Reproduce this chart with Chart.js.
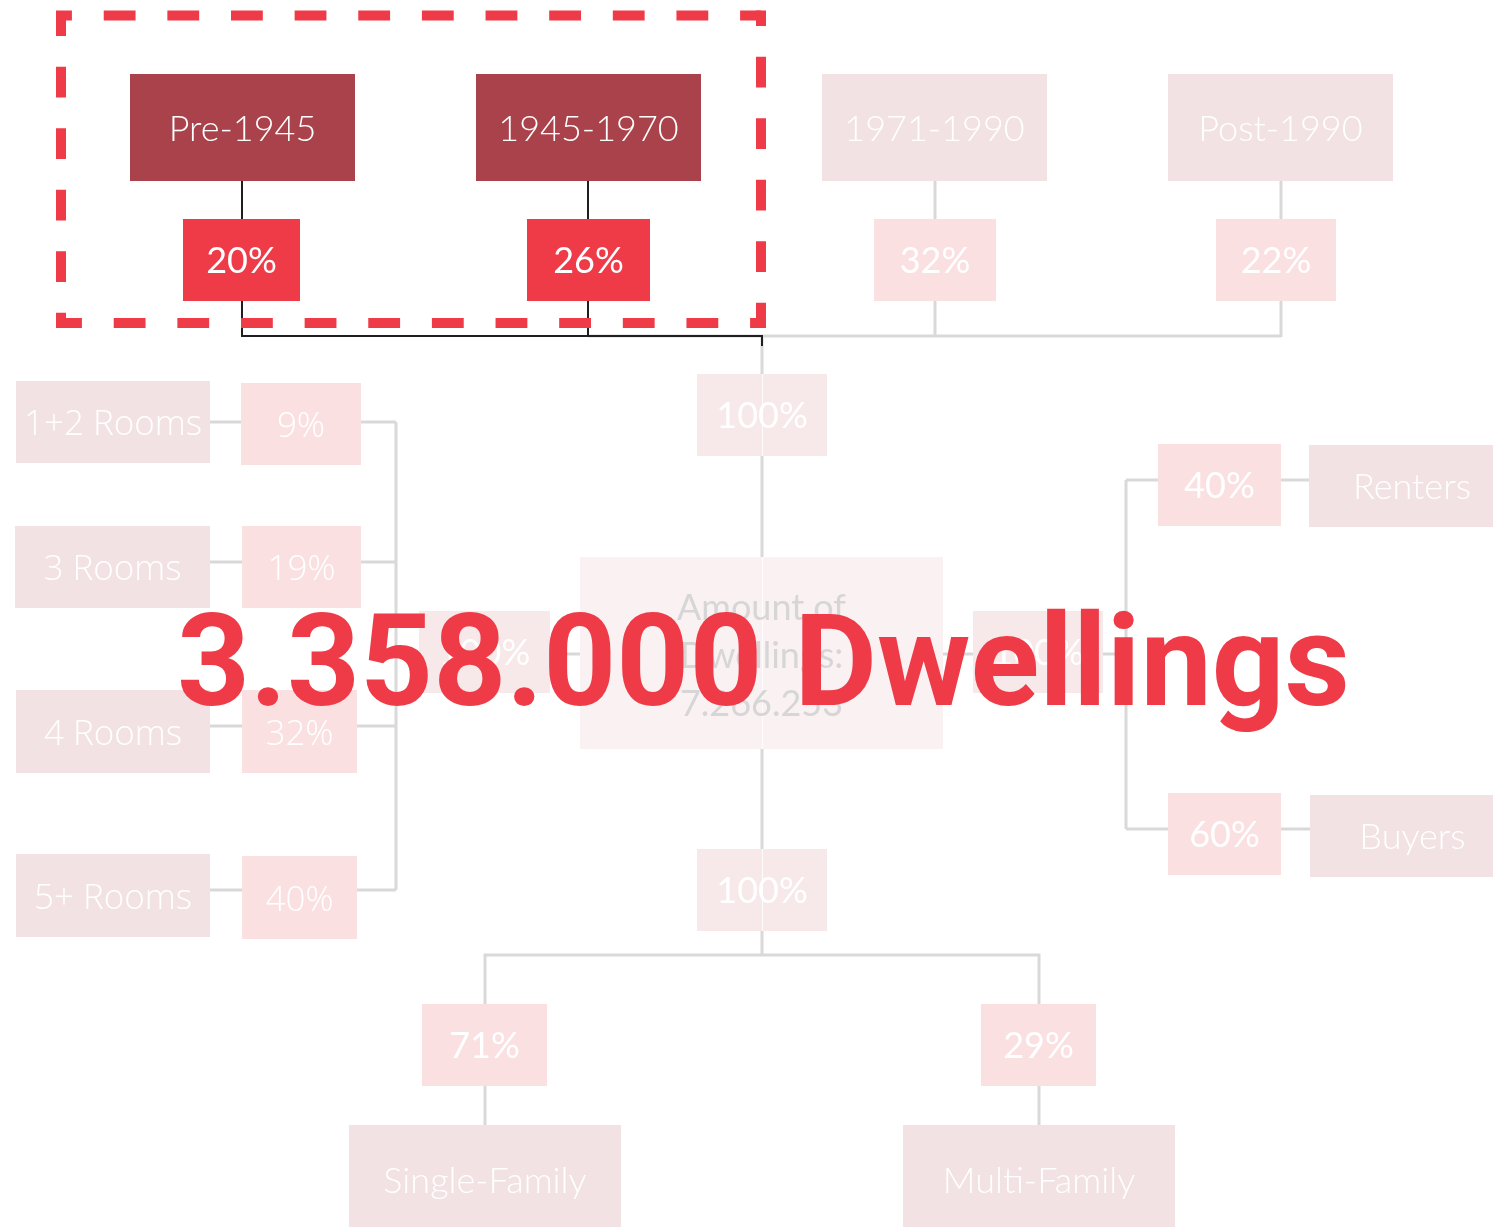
<!DOCTYPE html>
<html>
<head>
<meta charset="utf-8">
<script src="https://cdn.jsdelivr.net/npm/chart.js@4"></script>
<style>
  html, body { margin: 0; padding: 0; background: #ffffff; }
  #wrap { position: relative; width: 1493px; height: 1227px; }
</style>
</head>
<body>
<div id="wrap"><canvas id="tree"></canvas></div>
<script>
// data
const eraLabels = ["Pre-1945", "1945-1970", "1971-1990", "Post-1990"]
const eraShares = [20, 26, 32, 22]
const roomLabels = ["1+2 Rooms", "3 Rooms", "4 Rooms", "5+ Rooms"]
const roomShares = [9, 19, 32, 40]
const tenureLabels = ["Renters", "Buyers"]
const tenureShares = [40, 60]
const typeLabels = ["Single-Family", "Multi-Family"]
const typeShares = [71, 29]
const branchShares = [100, 100, 100, 100] // top, left, right, bottom
const totalLines = ["Amount of", "Dwellings:", "7.266.253"]
const highlightValue = "3.358.000"
const highlightUnit = "Dwellings"
const highlightedEras = ["Pre-1945", "1945-1970"]

// layout (axis units = pixels of the page)
const W = 1493, H = 1227
const eraBoxes = [[130, 74, 355, 181], [476, 74, 701, 181], [822, 74, 1047, 181], [1168, 74, 1393, 181]]
const eraPctBoxes = [[183, 219, 300, 301], [527, 219, 650, 301], [874, 219, 996, 301], [1216, 219, 1336, 301]]
const eraStems = [242, 588, 935, 1281]
const roomBoxes = [[16, 381, 210, 463], [15, 526, 210, 608], [16, 690, 210, 773], [16, 854, 210, 937]]
const roomPctBoxes = [[241, 383, 361, 465], [242, 526, 361, 608], [242, 690, 357, 773], [242, 856, 357, 939]]
const roomRows = [422, 562, 726, 890]
const tenurePctBoxes = [[1158, 444, 1281, 526], [1168, 793, 1281, 875]]
const tenureBoxes = [[1309, 445, 1510, 527], [1310, 795, 1510, 877]]
const tenureRows = [480, 829]
const typePctBoxes = [[422, 1004, 547, 1086], [981, 1004, 1096, 1086]]
const typeBoxes = [[349, 1125, 621, 1240], [903, 1125, 1175, 1240]]
const typeStems = [485, 1039]
const branchBoxes = [[697, 374, 827, 456], [419, 611, 550, 693], [973, 611, 1103, 693], [697, 849, 827, 931]]
const centerBox = [580, 557, 943, 749]

const C = {
  dark: "#a9424a",
  red: "#ef3b48",
  fadeBox: "#f2e2e3",
  fadePct: "#fbe0e2",
  branch: "#f7e8e9",
  center: "#f9f1f2",
  line: "#d9d9d9",
  black: "#1f1f1f",
}

const allBoxes = [].concat(eraBoxes, eraPctBoxes, roomBoxes, roomPctBoxes, tenurePctBoxes,
  tenureBoxes, typePctBoxes, typeBoxes, branchBoxes, [centerBox])
const centers = allBoxes.map((b) => ({ x: (b[0] + b[2]) / 2, y: (b[1] + b[3]) / 2 }))

const treePlugin = {
  id: "tree",
  afterDatasetsDraw(chart) {
    const ctx = chart.ctx
    const xs = chart.scales.x, ys = chart.scales.y
    const px = (v) => xs.getPixelForValue(v)
    const py = (v) => ys.getPixelForValue(v)

    function line(pts, color, w) {
      ctx.save()
      ctx.strokeStyle = color
      ctx.lineWidth = w
      ctx.beginPath()
      pts.forEach((p, i) => (i ? ctx.lineTo(px(p[0]), py(p[1])) : ctx.moveTo(px(p[0]), py(p[1]))))
      ctx.stroke()
      ctx.restore()
    }
    function box(b, fill) {
      ctx.fillStyle = fill
      ctx.fillRect(px(b[0]), py(b[1]), px(b[2]) - px(b[0]), py(b[3]) - py(b[1]))
    }
    function label(b, text, font, color, cap) {
      ctx.save()
      ctx.font = font
      ctx.fillStyle = color
      ctx.textAlign = "center"
      ctx.textBaseline = "alphabetic"
      const cx = px((b[0] + b[2]) / 2)
      const cy = py((b[1] + b[3]) / 2)
      ctx.fillText(text, cx, cy + cap / 2)
      ctx.restore()
    }

    // connectors
    const g = C.line
    line([[eraStems[1], 336], [1281, 336]], g, 3)
    eraStems.forEach((x, i) => {
      const col = highlightedEras.includes(eraLabels[i]) ? C.black : g
      const w = highlightedEras.includes(eraLabels[i]) ? 2 : 3
      line([[x, 181], [x, 219]], col, w)
      line([[x, 301], [x, 337]], col, w)
    })
    line([[762, 336], [762, 955]], g, 3)
    line([[242, 336], [763, 336]], C.black, 2)
    line([[762, 336], [762, 346]], C.black, 2)
    roomRows.forEach((y) => line([[210, y], [396, y]], g, 3))
    line([[396, roomRows[0]], [396, roomRows[3]]], g, 3)
    line([[396, 654], [580, 654]], g, 3)
    line([[943, 654], [1126, 654]], g, 3)
    line([[1126, tenureRows[0]], [1126, tenureRows[1]]], g, 3)
    tenureRows.forEach((y) => line([[1126, y], [1310, y]], g, 3))
    line([[typeStems[0], 1004], [typeStems[0], 955], [typeStems[1], 955], [typeStems[1], 1004]], g, 3)
    typeStems.forEach((x) => line([[x, 1086], [x, 1125]], g, 3))

    // boxes
    const lightFont = "300 36px Lato"
    eraLabels.forEach((t, i) => {
      const hi = highlightedEras.includes(t)
      box(eraBoxes[i], hi ? C.dark : C.fadeBox)
      label(eraBoxes[i], t, lightFont, "#ffffff", 26)
      box(eraPctBoxes[i], hi ? C.red : C.fadePct)
      label(eraPctBoxes[i], eraShares[i] + "%", "400 36px Lato", "#ffffff", 26)
    })
    roomLabels.forEach((t, i) => {
      box(roomBoxes[i], C.fadeBox)
      label(roomBoxes[i], t, "300 35px 'Open Sans'", "#ffffff", 26)
      box(roomPctBoxes[i], C.fadePct)
      label(roomPctBoxes[i], roomShares[i] + "%", "300 35px 'Open Sans'", "#ffffff", 26)
    })
    tenureLabels.forEach((t, i) => {
      box(tenurePctBoxes[i], C.fadePct)
      label(tenurePctBoxes[i], tenureShares[i] + "%", "400 36px Lato", "#ffffff", 26)
      box(tenureBoxes[i], C.fadeBox)
      label([tenureBoxes[i][0], tenureBoxes[i][1], 1515, tenureBoxes[i][3]], t, lightFont, "#ffffff", 26)
    })
    typeLabels.forEach((t, i) => {
      box(typePctBoxes[i], C.fadePct)
      label(typePctBoxes[i], typeShares[i] + "%", "400 36px Lato", "#ffffff", 26)
      box(typeBoxes[i], C.fadeBox)
      label([typeBoxes[i][0], 1125, typeBoxes[i][2], 1235], t, lightFont, "#ffffff", 26)
    })
    branchBoxes.forEach((b, i) => {
      box(b, C.branch)
      label(b, branchShares[i] + "%", "400 36px Lato", "#ffffff", 26)
    })
    box(centerBox, C.center)
    // faint seam through the trunk boxes
    line([[762.5, 374], [762.5, 456]], "rgba(255,255,255,0.8)", 1)
    line([[762.5, 557], [762.5, 749]], "rgba(255,255,255,0.8)", 1)
    line([[762.5, 849], [762.5, 931]], "rgba(255,255,255,0.8)", 1)
    totalLines.forEach((t, i) => {
      const y = 607 + i * 48
      label([centerBox[0], y, centerBox[2], y], t, "400 36px Lato", "#d6d6d6", 26)
    })

    // dashed highlight frame
    ctx.save()
    ctx.strokeStyle = C.red
    ctx.lineWidth = 10
    ctx.lineCap = "butt"
    const fx0 = px(61), fx1 = px(761), fy0 = py(15.5), fy1 = py(323)
    const sides = [[fx0, fy0, fx1, fy0], [fx1, fy0, fx1, fy1], [fx1, fy1, fx0, fy1], [fx0, fy1, fx0, fy0]]
    sides.forEach((s) => {
      const L = Math.hypot(s[2] - s[0], s[3] - s[1])
      const n = Math.round(L / 62)
      const d = L / n / 2
      ctx.setLineDash([d, d])
      ctx.lineDashOffset = d / 2
      ctx.beginPath()
      ctx.moveTo(s[0] + (s[0] === s[2] ? 0 : (s[2] > s[0] ? -5 : 5)), s[1] + (s[1] === s[3] ? 0 : (s[3] > s[1] ? -5 : 5)))
      ctx.lineTo(s[2], s[3])
      ctx.stroke()
    })
    ctx.restore()

    // headline number
    ctx.save()
    const head = highlightValue + " " + highlightUnit
    ctx.font = "700 128px Roboto"
    const wText = ctx.measureText(head).width
    const x0 = px(177), x1 = px(1350)
    ctx.translate(x0, py(705))
    ctx.scale((x1 - x0) / wText, 1)
    ctx.fillStyle = C.red
    ctx.textAlign = "left"
    ctx.textBaseline = "alphabetic"
    ctx.fillText(head, 0, 0)
    ctx.restore()
  },
}

new Chart(document.getElementById("tree"), {
  type: "scatter",
  data: {
    datasets: [{ data: centers, pointRadius: 0, pointHoverRadius: 0 }],
  },
  options: {
    responsive: true,
    maintainAspectRatio: false,
    devicePixelRatio: 1,
    animation: false,
    events: [],
    layout: { padding: 0 },
    plugins: { legend: { display: false }, tooltip: { enabled: false } },
    scales: {
      x: { type: "linear", min: 0, max: W, display: false },
      y: { type: "linear", min: 0, max: H, reverse: true, display: false },
    },
  },
  plugins: [treePlugin],
})
</script>
</body>
</html>
